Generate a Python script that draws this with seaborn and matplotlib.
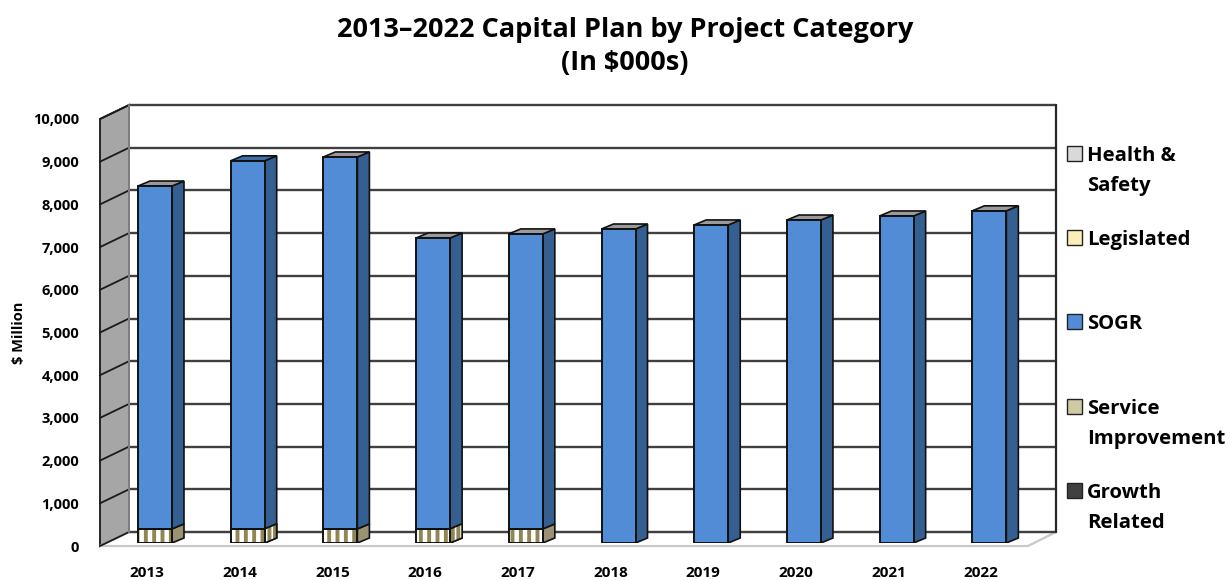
import matplotlib
matplotlib.use('Agg')
import matplotlib.pyplot as plt
from matplotlib.patches import Polygon, Rectangle
from matplotlib.transforms import ScaledTranslation
import seaborn as sns

# values
years = ['2013', '2014', '2015', '2016', '2017', '2018', '2019', '2020', '2021', '2022']
legislated = [330, 330, 330, 330, 330, 0, 0, 0, 0, 0]
sogr = [8020, 8610, 8700, 6805, 6900, 7345, 7440, 7555, 7650, 7770]
yticks = [0, 1000, 2000, 3000, 4000, 5000, 6000, 7000, 8000, 9000, 10000]
legend_labels = ['Health &\nSafety', 'Legislated', 'SOGR', 'Service\nImprovement', 'Growth\nRelated']
legend_colors = ['#d9d9d9', '#fbeeb8', '#538cd6', '#cfc9a4', '#404040']

W, H = 1230, 580
PX = 10000 / 427.5  # data units per pixel

sns.set_theme(style='white')
plt.rcParams['font.family'] = ['Open Sans', 'DejaVu Sans']
plt.rcParams['font.weight'] = 'bold'
plt.rcParams['hatch.linewidth'] = 2.8

fig = plt.figure(figsize=(W / 100, H / 100), dpi=100)


def px_box(left, top, right, bottom):
    return [left / W, 1 - bottom / H, (right - left) / W, (bottom - top) / H]


# walls, floor and grid sit on their own axes, with x in pixels
wall = fig.add_axes(px_box(100, 119, 1028, 546))
wall.set_xlim(0, 928)
wall.set_ylim(0, 10000)
wall.patch.set_visible(False)
sns.despine(ax=wall, left=True, bottom=True)
DX, DY = 29, 14 * PX
wall.add_patch(Polygon([(0, 0), (DX, DY), (DX, 10000 + DY), (0, 10000)], fc='#a6a6a6', ec='#262626', lw=1.4, clip_on=False, zorder=1))
wall.add_patch(Polygon([(0, 0), (DX, DY), (928 + 28, DY), (928, 0)], fc='white', ec='#c8c8c8', lw=1.6, clip_on=False, zorder=1))
for v in yticks:
    wall.plot([0, DX], [v, v + DY], color='#1a1a1a', lw=1.3, clip_on=False, zorder=2)
    wall.plot([DX, 928 + 28], [v + DY, v + DY], color='#404040', lw=1.7, clip_on=False, zorder=2)
wall.plot([DX, DX], [DY, 10000 + DY], color='#808080', lw=1.4, clip_on=False, zorder=2)
wall.plot([928 + 28, 928 + 28], [DY, 10000 + DY], color='#262626', lw=1.6, clip_on=False, zorder=2)
wall.set_xticks([])
wall.set_yticks(yticks)
wall.set_yticklabels([f'{v:,}' for v in yticks], fontsize=10.5, fontweight='bold')
wall.tick_params(axis='y', length=0, pad=15, colors='black')
wall.set_ylabel('$ Million', fontsize=10.5, fontweight='bold', color='black', labelpad=5)

# bars on a second axes whose zero is the base of the bars
ax = fig.add_axes(px_box(100, 115.5, 1028, 543))
ax.patch.set_visible(False)
sns.barplot(x=years, y=legislated, color='#ffffff', width=0.367, edgecolor='#8f8655',
            hatch='||', linewidth=0, ax=ax, zorder=4)
n_leg = len(ax.patches)
sns.barplot(x=years, y=sogr, bottom=legislated, color='#538cd6', saturation=1, width=0.367,
            edgecolor='#111111', linewidth=1.4, ax=ax, zorder=4)
ax.set_xlim(-0.593, 9.417)
ax.set_ylim(0, 10000)
sns.despine(ax=ax, left=True, bottom=True)
ax.set_yticks([])
ax.set_ylabel('')
ax.set_xlabel('')
ax.tick_params(axis='x', length=0, pad=16.5, labelsize=11, colors='black')
# year labels sit a bit left of the bars
shift = ScaledTranslation(-8 / 100, 0, fig.dpi_scale_trans)
for lab in ax.get_xticklabels():
    lab.set_fontweight('bold')
    lab.set_transform(lab.get_transform() + shift)

# fake depth on every bar, built from the patches themselves
x_per_px = (ax.get_xlim()[1] - ax.get_xlim()[0]) / 928
sx, sy = 12 * x_per_px, 5 * PX
for i, p in enumerate(ax.patches):
    h = p.get_height()
    if h <= 0:
        continue
    x0, x1, y0, y1 = p.get_x(), p.get_x() + p.get_width(), p.get_y(), p.get_y() + h
    is_leg = i < n_leg
    side = '#9a9272' if is_leg else '#365f91'
    face = Polygon([(x1, y0), (x1 + sx, y0 + sy), (x1 + sx, y1 + sy), (x1, y1)],
                   fc=side, ec='#111111', lw=1.2, zorder=3.5)
    ax.add_patch(face)
    if is_leg:
        ax.add_patch(Rectangle((x0, y0), x1 - x0, h, fc='none', ec='#111111', lw=1.4, zorder=5))
        # 2014 and 2016 show the stripes on the side too
        if i in (1, 3):
            ax.add_patch(Polygon(face.get_xy(), fc='#ffffff', ec='#8f8655', hatch='|||', lw=0, zorder=3.6))
            ax.add_patch(Polygon(face.get_xy(), fc='none', ec='#111111', lw=1.2, zorder=3.7))
    else:
        top = '#3f6ea8' if i - n_leg == 1 else '#9a9a9a'
        ax.add_patch(Polygon([(x0, y1), (x0 + sx, y1 + sy), (x1 + sx, y1 + sy), (x1, y1)],
                             fc=top, ec='#111111', lw=1.2, zorder=3.5))

# legend placed by hand, entries sit at uneven heights
legend_y = [154, 238, 322, 407, 491]
for label, color, y in zip(legend_labels, legend_colors, legend_y):
    fig.add_artist(Rectangle((1067 / W, 1 - (y + 7) / H), 15 / W, 15 / H, fc=color, ec='#222222', lw=1,
                             transform=fig.transFigure))
    fig.text(1087 / W, 1 - (y - 8) / H, label, fontsize=14.6, fontweight='bold', va='top', ha='left',
             color='black', linespacing=1.65)

fig.text(625 / W, 1 - 30 / H, '2013–2022 Capital Plan by Project Category', fontsize=19.5, fontweight='bold',
         ha='center', va='center', color='black')
fig.text(625 / W, 1 - 63 / H, '(In $000s)', fontsize=19.5, fontweight='bold', ha='center', va='center', color='black')

fig.savefig('out.png', dpi=100)
